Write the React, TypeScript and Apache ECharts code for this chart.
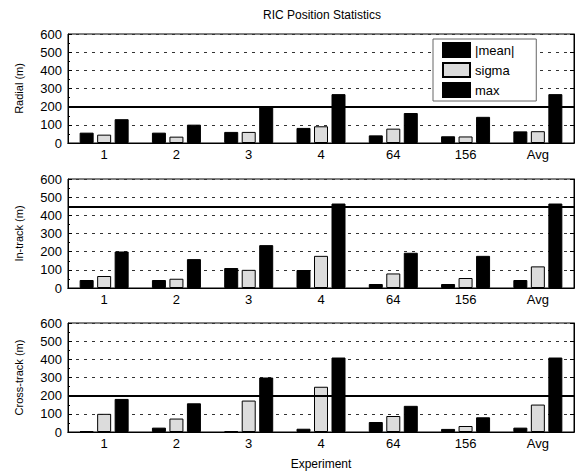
import React, { useEffect, useRef } from "react";
import * as echarts from "echarts";

const categories = ["1", "2", "3", "4", "64", "156", "Avg"];
const seriesNames = ["|mean|", "sigma", "max"];
const panelNames = ["Radial (m)", "In-track (m)", "Cross-track (m)"];

const radialMean = [57, 57, 61, 83, 42, 37, 64];
const radialSigma = [46, 35, 61, 92, 79, 36, 65];
const radialMax = [131, 101, 203, 269, 165, 144, 269];

const inTrackMean = [44, 44, 110, 99, 22, 22, 44];
const inTrackSigma = [66, 51, 100, 177, 80, 55, 119];
const inTrackMax = [201, 159, 236, 465, 194, 177, 465];

const crossMean = [5, 24, 5, 18, 55, 17, 24];
const crossSigma = [100, 74, 173, 249, 88, 33, 151];
const crossMax = [182, 158, 300, 410, 144, 81, 410];

const thresholds = [200, 450, 200];
const yMin = 0;
const yMax = 600;
const yInterval = 100;

const panels = [
  [radialMean, radialSigma, radialMax],
  [inTrackMean, inTrackSigma, inTrackMax],
  [crossMean, crossSigma, crossMax],
];

const FONT = "Liberation Sans, Arial, sans-serif";

export default function App() {
  const ref = useRef<HTMLDivElement>(null);
  useEffect(() => {
    document.body.style.margin = "0";
    if (!ref.current) return;
    const chart = echarts.init(ref.current, null, { renderer: "svg" });
    const tops = [34, 179, 323];
    const height = 109;
    const grids = tops.map((t) => ({
      left: 68,
      right: 2,
      top: t,
      height,
      show: true,
      borderColor: "#000",
      borderWidth: 1,
      backgroundColor: "#fff",
    }));
    const xAxes: any[] = [];
    const yAxes: any[] = [];
    const series: any[] = [];
    panels.forEach((p, i) => {
      xAxes.push({
        type: "category",
        gridIndex: i,
        data: categories,
        position: "bottom",
        axisLine: { lineStyle: { color: "#000", width: 1 } },
        axisTick: { inside: true, alignWithLabel: true, length: 4, lineStyle: { color: "#000" } },
        axisLabel: { color: "#000", fontFamily: FONT, fontSize: 13, margin: 5 },
        name: i === 2 ? "Experiment" : "",
        nameLocation: "middle",
        nameGap: 26,
        nameTextStyle: { color: "#000", fontFamily: FONT, fontSize: 12 },
      });
      xAxes.push({
        type: "category",
        gridIndex: i,
        data: categories,
        position: "top",
        axisLine: { lineStyle: { color: "#000", width: 1 } },
        axisTick: { inside: true, alignWithLabel: true, length: 4, lineStyle: { color: "#000" } },
        axisLabel: { show: false },
      });
      yAxes.push({
        type: "value",
        gridIndex: i,
        min: yMin,
        max: yMax,
        interval: yInterval,
        position: "left",
        axisLine: { show: true, lineStyle: { color: "#000" } },
        axisTick: { show: true, inside: true, length: 4, lineStyle: { color: "#000" } },
        minorTick: { show: true, splitNumber: 2, length: 2, lineStyle: { color: "#000" } },
        axisLabel: { color: "#000", fontFamily: FONT, fontSize: 13, margin: 6 },
        splitLine: { show: true, lineStyle: { color: "#333", type: [3, 5], width: 1 } },
        name: panelNames[i],
        nameLocation: "middle",
        nameRotate: 90,
        nameGap: 44,
        nameTextStyle: { color: "#000", fontFamily: FONT, fontSize: 11 },
      });
      yAxes.push({
        type: "value",
        gridIndex: i,
        min: yMin,
        max: yMax,
        interval: yInterval,
        position: "right",
        axisLine: { show: true, lineStyle: { color: "#000" } },
        axisTick: { show: true, inside: true, length: 4, lineStyle: { color: "#000" } },
        axisLabel: { show: false },
        splitLine: { show: false },
      });
      p.forEach((vals, k) => {
        const s: any = {
          type: "bar",
          name: seriesNames[k],
          xAxisIndex: i * 2,
          yAxisIndex: i * 2,
          data: vals,
          barWidth: 14,
          barGap: "25%",
          itemStyle:
            k === 1
              ? { color: "#dcdcdc", borderColor: "#000", borderWidth: 1 }
              : { color: "#000", borderColor: "#000", borderWidth: 1 },
        };
        if (k === 0) {
          s.markLine = {
            silent: true,
            symbol: "none",
            label: { show: false },
            lineStyle: { color: "#000", width: 2, type: "solid" },
            data: [{ yAxis: thresholds[i] }],
          };
        }
        series.push(s);
      });
    });
    chart.setOption({
      animation: false,
      backgroundColor: "#fff",
      textStyle: { fontFamily: FONT },
      grid: grids,
      xAxis: xAxes,
      yAxis: yAxes,
      series,
      legend: {
        data: seriesNames,
        orient: "vertical",
        align: "left",
        left: 433,
        top: 39,
        padding: [3, 22, 3, 9],
        itemGap: 4,
        itemWidth: 27,
        itemHeight: 14,
        icon: "rect",
        backgroundColor: "#fff",
        borderColor: "#666",
        borderWidth: 1,
        textStyle: { color: "#000", fontFamily: FONT, fontSize: 13 },
      },
      graphic: [
        {
          type: "text",
          x: 322,
          y: 15,
          style: {
            text: "RIC Position Statistics",
            fill: "#000",
            font: "12px Liberation Sans, Arial, sans-serif",
            textAlign: "center",
            textVerticalAlign: "middle",
          },
        },
      ],
    });
    return () => chart.dispose();
  }, []);
  return <div ref={ref} style={{ width: 576, height: 475 }} />;
}
